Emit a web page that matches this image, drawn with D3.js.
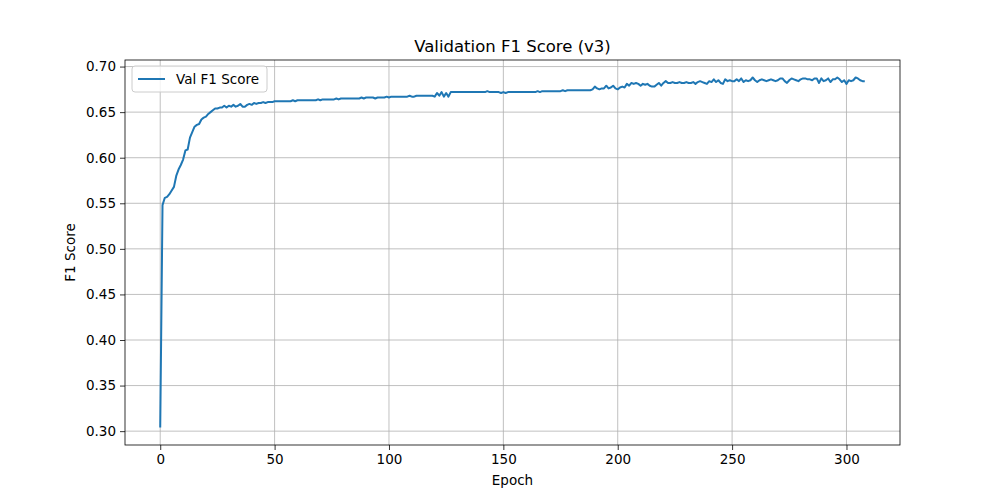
<!DOCTYPE html>
<meta charset="utf-8">
<title>Validation F1 Score (v3)</title>
<script src="https://d3js.org/d3.v7.min.js"></script>
<style>
  body { margin: 0; background: #fff; }
  text { font-family: "DejaVu Sans", sans-serif; }
</style>
<div id="chart"></div>
<script>
// F1 per epoch (epochs 0..308)
const f1 = [
  0.304, 0.548, 0.556, 0.557, 0.560, 0.564, 0.568, 0.580, 0.587, 0.592,
  0.598, 0.608, 0.609, 0.622, 0.628, 0.634, 0.636, 0.637, 0.642, 0.644,
  0.645, 0.648, 0.650, 0.652, 0.654, 0.654, 0.655, 0.655, 0.657, 0.655,
  0.657, 0.656, 0.658, 0.656, 0.657, 0.659, 0.656, 0.656, 0.658, 0.659,
  0.658, 0.660, 0.659, 0.660, 0.660, 0.661, 0.660, 0.661, 0.661, 0.661,
  0.662, 0.662, 0.662, 0.662, 0.662, 0.662, 0.662, 0.662, 0.663, 0.662,
  0.663, 0.663, 0.663, 0.663, 0.663, 0.663, 0.663, 0.663, 0.663, 0.664,
  0.663, 0.664, 0.664, 0.664, 0.664, 0.664, 0.664, 0.665, 0.664, 0.665,
  0.665, 0.665, 0.665, 0.665, 0.665, 0.665, 0.665, 0.665, 0.666, 0.665,
  0.666, 0.666, 0.666, 0.666, 0.665, 0.666, 0.666, 0.666, 0.666, 0.667,
  0.666, 0.667, 0.667, 0.667, 0.667, 0.667, 0.667, 0.667, 0.667, 0.668,
  0.667, 0.667, 0.668, 0.668, 0.668, 0.668, 0.668, 0.668, 0.668, 0.668,
  0.667, 0.671, 0.668, 0.672, 0.667, 0.671, 0.667, 0.672, 0.672, 0.672,
  0.672, 0.672, 0.672, 0.672, 0.672, 0.672, 0.672, 0.672, 0.672, 0.672,
  0.672, 0.672, 0.672, 0.673, 0.672, 0.672, 0.672, 0.672, 0.672, 0.671,
  0.672, 0.671, 0.672, 0.672, 0.672, 0.672, 0.672, 0.672, 0.672, 0.672,
  0.672, 0.672, 0.672, 0.672, 0.672, 0.673, 0.672, 0.673, 0.673, 0.673,
  0.673, 0.673, 0.673, 0.673, 0.673, 0.673, 0.674, 0.673, 0.674, 0.674,
  0.674, 0.674, 0.674, 0.674, 0.674, 0.674, 0.674, 0.674, 0.674, 0.675,
  0.678, 0.676, 0.675, 0.676, 0.676, 0.679, 0.676, 0.677, 0.679, 0.676,
  0.675, 0.677, 0.678, 0.677, 0.681, 0.679, 0.682, 0.681, 0.682, 0.681,
  0.679, 0.681, 0.680, 0.681, 0.679, 0.678, 0.678, 0.680, 0.682, 0.679,
  0.682, 0.684, 0.682, 0.682, 0.683, 0.682, 0.682, 0.683, 0.682, 0.682,
  0.683, 0.682, 0.682, 0.683, 0.681, 0.683, 0.684, 0.683, 0.682, 0.681,
  0.684, 0.683, 0.686, 0.683, 0.685, 0.682, 0.681, 0.686, 0.684, 0.685,
  0.684, 0.684, 0.686, 0.684, 0.687, 0.683, 0.685, 0.684, 0.685, 0.688,
  0.685, 0.683, 0.685, 0.686, 0.685, 0.684, 0.685, 0.686, 0.685, 0.684,
  0.685, 0.687, 0.687, 0.684, 0.682, 0.685, 0.687, 0.686, 0.685, 0.684,
  0.686, 0.687, 0.687, 0.686, 0.686, 0.685, 0.687, 0.687, 0.682, 0.687,
  0.684, 0.685, 0.687, 0.683, 0.686, 0.686, 0.688, 0.686, 0.683, 0.685,
  0.681, 0.685, 0.684, 0.685, 0.688, 0.687, 0.685, 0.684, 0.684
];
const epochs = f1.map((d, i) => i);
const xTicks = [0, 50, 100, 150, 200, 250, 300];
const yTicks = [0.30, 0.35, 0.40, 0.45, 0.50, 0.55, 0.60, 0.65, 0.70];

const W = 1000, H = 500;
const margin = { top: 60, right: 100, bottom: 55, left: 125 };
const width = W - margin.left - margin.right,
  height = H - margin.top - margin.bottom;

const svg = d3.select("#chart").append("svg")
  .attr("width", W).attr("height", H);
const g = svg.append("g")
  .attr("transform", `translate(${margin.left},${margin.top})`);

// matplotlib-style 5% padding
const xExt = d3.extent(epochs), yExt = d3.extent(f1);
const xPad = (xExt[1] - xExt[0]) * 0.05, yPad = (yExt[1] - yExt[0]) * 0.05;
const x = d3.scaleLinear().domain([xExt[0] - xPad, xExt[1] + xPad]).range([0, width]);
const y = d3.scaleLinear().domain([yExt[0] - yPad, yExt[1] + yPad]).range([height, 0]);

// grid
g.selectAll(".gx").data(xTicks).join("line")
  .attr("x1", d => x(d)).attr("x2", d => x(d))
  .attr("y1", 0).attr("y2", height)
  .attr("stroke", "#b0b0b0").attr("stroke-width", 0.8);
g.selectAll(".gy").data(yTicks).join("line")
  .attr("y1", d => y(d)).attr("y2", d => y(d))
  .attr("x1", 0).attr("x2", width)
  .attr("stroke", "#b0b0b0").attr("stroke-width", 0.8);

const xAxis = g.append("g").attr("transform", `translate(0,${height})`)
  .call(d3.axisBottom(x).tickValues(xTicks).tickSize(5).tickPadding(4).tickFormat(d3.format("d")));
const yAxis = g.append("g")
  .call(d3.axisLeft(y).tickValues(yTicks).tickSize(5).tickPadding(4).tickFormat(d3.format(".2f")));
[xAxis, yAxis].forEach(a => {
  a.select(".domain").remove();
  a.selectAll("text").style("font-size", "13.5px").style("font-family", "DejaVu Sans").attr("fill", "#000");
  a.selectAll("line").attr("stroke", "#000").attr("stroke-width", 0.8);
});

g.append("rect").attr("width", width).attr("height", height)
  .attr("fill", "none").attr("stroke", "#000").attr("stroke-width", 0.8);

g.append("path")
  .datum(f1)
  .attr("fill", "none")
  .attr("stroke", "#1f77b4")
  .attr("stroke-width", 2)
  .attr("stroke-linejoin", "round")
  .attr("d", d3.line().x((d, i) => x(epochs[i])).y(d => y(d)));

// title and labels
svg.append("text").attr("x", margin.left + width / 2).attr("y", 52)
  .attr("text-anchor", "middle").style("font-size", "16.5px").text("Validation F1 Score (v3)");
svg.append("text").attr("x", margin.left + width / 2).attr("y", 485)
  .attr("text-anchor", "middle").style("font-size", "13.5px").text("Epoch");
svg.append("text").attr("transform", `translate(75,${margin.top + height / 2}) rotate(-90)`)
  .attr("text-anchor", "middle").style("font-size", "13.5px").text("F1 Score");

// legend
const lg = g.append("g").attr("transform", "translate(7,6)");
lg.append("rect").attr("width", 135).attr("height", 26).attr("rx", 3)
  .attr("fill", "#fff").attr("fill-opacity", 0.8).attr("stroke", "#ccc");
lg.append("line").attr("x1", 6).attr("x2", 33).attr("y1", 13).attr("y2", 13)
  .attr("stroke", "#1f77b4").attr("stroke-width", 2);
lg.append("text").attr("x", 44).attr("y", 18).style("font-size", "13.5px").text("Val F1 Score");
</script>
